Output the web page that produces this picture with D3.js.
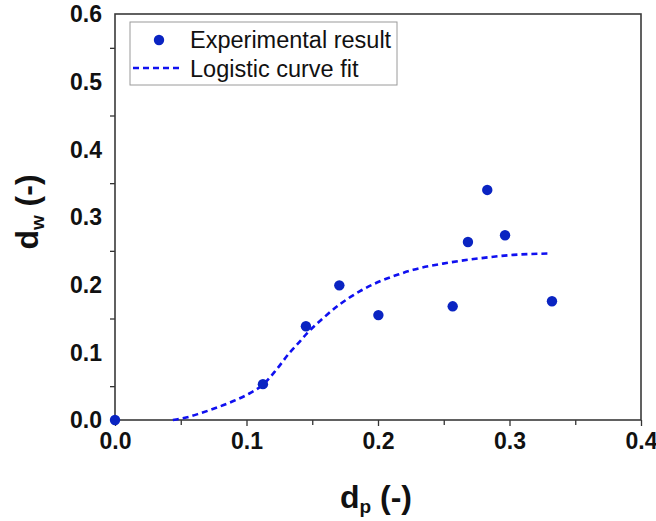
<!DOCTYPE html>
<html>
<head>
  <title>Logistic fit</title>
  <script src="https://d3js.org/d3.v7.min.js"></script>
  <style>
    body { margin: 0; background: #fff; }
    text { font-family: Arial, "Liberation Sans", sans-serif; }
  </style>
</head>
<body>
  <div id="chart"></div>
  <script>
  // experimental points
  const expX = [0.000, 0.1125, 0.1452, 0.1706, 0.2003, 0.2568, 0.2684, 0.2831, 0.2966, 0.3323];
  const expY = [0.000, 0.053, 0.1386, 0.199, 0.155, 0.168, 0.263, 0.340, 0.273, 0.1755];

  // fitted curve
  const fitX = [0.044, 0.055, 0.065, 0.077, 0.090, 0.103, 0.113, 0.123, 0.133, 0.141, 0.146, 0.158, 0.171, 0.186, 0.2015, 0.2154, 0.2268, 0.252, 0.2776, 0.303, 0.3295];
  const fitY = [0.000, 0.004, 0.010, 0.018, 0.028, 0.040, 0.053, 0.075, 0.100, 0.117, 0.128, 0.150, 0.171, 0.190, 0.205, 0.215, 0.222, 0.232, 0.239, 0.244, 0.246];

  const xTicks = [0, 0.1, 0.2, 0.3, 0.4];
  const yTicks = [0, 0.1, 0.2, 0.3, 0.4, 0.5, 0.6];
  const legendLabels = ["Experimental result", "Logistic curve fit"];

  const W = 656, H = 521;
  const margin = { top: 14, right: 15, bottom: 101, left: 115 };
  const width = W - margin.left - margin.right;
  const height = H - margin.top - margin.bottom;

  const svg = d3.select("#chart").append("svg")
    .attr("width", W)
    .attr("height", H);

  const g = svg.append("g")
    .attr("transform", `translate(${margin.left},${margin.top})`);

  const x = d3.scaleLinear().domain([0, 0.4]).range([0, width]);
  const y = d3.scaleLinear().domain([0, 0.6]).range([height, 0]);

  // x axis: ticks every 0.05, labels every 0.1
  const xAll = d3.range(0, 0.4001, 0.05);
  const isMajor = d => xTicks.some(t => Math.abs(t - d) < 1e-6);
  const xAxis = g.append("g")
    .attr("transform", `translate(0,${height})`)
    .call(d3.axisBottom(x).tickValues(xAll).tickSize(6).tickSizeOuter(0)
      .tickFormat(d => isMajor(d) ? d3.format(".1f")(d) : ""));
  xAxis.selectAll(".tick line")
    .attr("stroke", "#333").attr("stroke-width", 1.3)
    .attr("y2", d => isMajor(d) ? 6 : 5);
  xAxis.selectAll(".tick text")
    .attr("y", 13)
    .attr("font-size", 23).attr("font-weight", "bold").attr("fill", "#111");
  xAxis.select(".domain").remove();

  // y axis: only minor ticks visible, labels at 0.1
  const yMinor = d3.range(0.05, 0.6, 0.1);
  const yAxis = g.append("g")
    .call(d3.axisLeft(y).tickValues(yMinor).tickSize(5).tickFormat(""));
  yAxis.selectAll(".tick line").attr("stroke", "#333").attr("stroke-width", 1.3);
  yAxis.select(".domain").remove();

  g.append("g").selectAll("text")
    .data(yTicks)
    .join("text")
    .attr("x", -13)
    .attr("y", d => y(d))
    .attr("dy", "0.36em")
    .attr("text-anchor", "end")
    .attr("font-size", 23)
    .attr("font-weight", "bold")
    .attr("fill", "#111")
    .text(d => d3.format(".1f")(d));

  // frame
  g.append("rect")
    .attr("x", 0).attr("y", 0)
    .attr("width", width).attr("height", height)
    .attr("fill", "none")
    .attr("stroke", "#3a3a3a")
    .attr("stroke-width", 1.6);

  // fit curve
  const fit = fitX.map((v, i) => [v, fitY[i]]);
  g.append("path")
    .datum(fit)
    .attr("fill", "none")
    .attr("stroke", "#1010f0")
    .attr("stroke-width", 2.6)
    .attr("stroke-dasharray", "6,4")
    .attr("d", d3.line().x(d => x(d[0])).y(d => y(d[1])).curve(d3.curveMonotoneX));

  // points
  g.append("g").selectAll("circle")
    .data(expX.map((v, i) => [v, expY[i]]))
    .join("circle")
    .attr("cx", d => x(d[0]))
    .attr("cy", d => y(d[1]))
    .attr("r", 5.2)
    .attr("fill", "#0a24c2");

  // legend
  const lg = svg.append("g");
  lg.append("rect")
    .attr("x", 130).attr("y", 22)
    .attr("width", 267).attr("height", 63)
    .attr("fill", "#fff")
    .attr("stroke", "#9a9a9a")
    .attr("stroke-width", 1);
  lg.append("circle")
    .attr("cx", 159).attr("cy", 40).attr("r", 5.2)
    .attr("fill", "#0a24c2");
  lg.append("line")
    .attr("x1", 133).attr("x2", 183)
    .attr("y1", 68).attr("y2", 68)
    .attr("stroke", "#1010f0")
    .attr("stroke-width", 2.6)
    .attr("stroke-dasharray", "6,4");
  lg.selectAll("text.lab")
    .data(legendLabels)
    .join("text")
    .attr("class", "lab")
    .attr("x", 190)
    .attr("y", (d, i) => 48 + i * 29)
    .attr("font-size", 23.5)
    .attr("fill", "#111")
    .text(d => d);

  // axis titles
  const xt = svg.append("text")
    .attr("x", 376).attr("y", 508)
    .attr("text-anchor", "middle")
    .attr("font-size", 32)
    .attr("font-weight", "bold")
    .attr("fill", "#111");
  xt.append("tspan").text("d");
  xt.append("tspan").attr("font-size", 19).attr("dy", 5).text("p");
  xt.append("tspan").attr("dy", -5).text(" (-)");

  const yt = svg.append("text")
    .attr("transform", "translate(38,212) rotate(-90)")
    .attr("text-anchor", "middle")
    .attr("font-size", 32)
    .attr("font-weight", "bold")
    .attr("fill", "#111");
  yt.append("tspan").text("d");
  yt.append("tspan").attr("font-size", 19).attr("dy", 6).text("w");
  yt.append("tspan").attr("dy", -6).text(" (-)");
  </script>
</body>
</html>
